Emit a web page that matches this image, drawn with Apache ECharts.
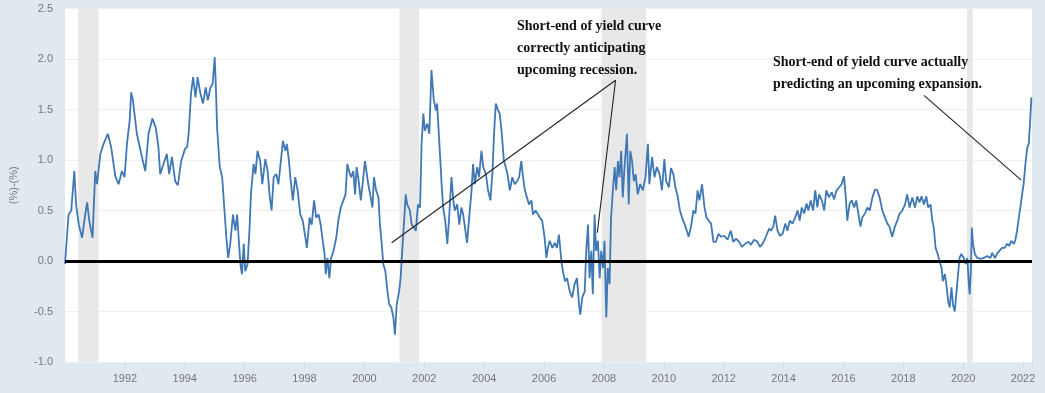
<!DOCTYPE html>
<html>
<head>
<meta charset="utf-8">
<script src="https://cdn.jsdelivr.net/npm/echarts@6/dist/echarts.min.js"></script>
<style>
html,body{margin:0;padding:0;background:#e1e9f0;}
#chart{width:1045px;height:393px;}
</style>
</head>
<body>
<div id="chart"></div>
<script>
// Observation dates (decimal years) and spread values (%)
const years = [
1990.00,1990.07,1990.12,1990.21,1990.31,1990.37,1990.46,1990.57,1990.66,1990.74,1990.81,1990.92,
1991.01,1991.07,1991.18,1991.29,1991.43,1991.54,1991.68,1991.79,1991.90,1991.99,
1992.07,1992.16,1992.21,1992.27,1992.32,1992.40,1992.57,1992.68,1992.79,1992.92,
1993.03,1993.12,1993.18,1993.29,1993.40,1993.48,1993.57,1993.68,1993.77,1993.88,
1994.01,1994.08,1994.13,1994.21,1994.28,1994.36,1994.43,1994.52,1994.61,1994.70,1994.77,1994.86,1994.93,
1995.00,1995.04,1995.08,1995.17,1995.25,1995.32,1995.39,1995.45,1995.52,1995.61,1995.69,1995.75,1995.80,1995.86,1995.91,1995.97,
1996.02,1996.10,1996.17,1996.21,1996.30,1996.36,1996.43,1996.52,1996.59,1996.69,1996.77,1996.83,1996.90,1996.97,
1997.06,1997.13,1997.21,1997.28,1997.36,1997.41,1997.48,1997.54,1997.61,1997.69,1997.77,1997.86,1997.94,
1998.02,1998.08,1998.17,1998.24,1998.32,1998.39,1998.47,1998.54,1998.61,1998.67,1998.71,1998.77,1998.83,1998.89,1998.97,
1999.06,1999.13,1999.21,1999.30,1999.37,1999.43,1999.49,1999.56,1999.63,1999.69,1999.74,1999.81,1999.88,1999.94,
2000.02,2000.08,2000.13,2000.21,2000.27,2000.32,2000.39,2000.47,2000.52,2000.58,2000.63,2000.70,2000.77,2000.83,2000.90,2000.97,
2001.02,2001.08,2001.16,2001.21,2001.27,2001.32,2001.38,2001.43,2001.52,2001.58,2001.66,2001.72,2001.79,2001.86,2001.91,2001.97,
2002.02,2002.10,2002.17,2002.24,2002.32,2002.39,2002.43,2002.50,2002.58,2002.63,2002.70,2002.77,2002.83,2002.91,2002.97,
2003.02,2003.10,2003.17,2003.24,2003.30,2003.36,2003.43,2003.50,2003.58,2003.63,2003.69,2003.77,2003.83,2003.91,2003.97,
2004.06,2004.13,2004.21,2004.28,2004.33,2004.39,2004.47,2004.52,2004.59,2004.66,2004.72,2004.78,2004.86,2004.94,
2005.02,2005.10,2005.17,2005.24,2005.30,2005.36,2005.43,2005.50,2005.58,2005.63,2005.72,2005.80,2005.86,2005.94,
2006.02,2006.08,2006.13,2006.19,2006.28,2006.36,2006.43,2006.50,2006.58,2006.63,2006.70,2006.77,2006.86,2006.94,
2007.02,2007.10,2007.17,2007.21,2007.28,2007.36,2007.41,2007.47,2007.52,2007.58,2007.63,2007.69,2007.74,2007.80,2007.86,2007.91,2007.97,
2008.02,2008.08,2008.13,2008.19,2008.24,2008.30,2008.36,2008.41,2008.47,2008.52,2008.58,2008.63,2008.69,2008.77,2008.83,2008.88,2008.94,
2009.00,2009.06,2009.13,2009.21,2009.30,2009.39,2009.47,2009.52,2009.61,2009.69,2009.77,2009.86,2009.94,
2010.02,2010.08,2010.17,2010.24,2010.32,2010.39,2010.47,2010.54,2010.61,2010.69,2010.77,2010.83,2010.91,2010.99,
2011.06,2011.13,2011.19,2011.28,2011.36,2011.43,2011.50,2011.58,2011.66,2011.74,2011.83,2011.91,
2012.02,2012.13,2012.24,2012.32,2012.41,2012.52,2012.61,2012.72,2012.83,2012.91,
2013.02,2013.13,2013.21,2013.30,2013.41,2013.52,2013.58,2013.66,2013.72,2013.80,2013.88,2013.97,
2014.06,2014.13,2014.21,2014.30,2014.39,2014.47,2014.54,2014.61,2014.69,2014.77,2014.83,2014.91,2014.99,
2015.06,2015.13,2015.19,2015.28,2015.36,2015.43,2015.52,2015.61,2015.69,2015.77,2015.86,2015.94,
2016.02,2016.08,2016.13,2016.21,2016.28,2016.36,2016.43,2016.50,2016.57,2016.63,2016.72,2016.80,2016.88,2016.97,
2017.06,2017.13,2017.21,2017.30,2017.39,2017.47,2017.54,2017.63,2017.72,2017.80,2017.88,2017.97,
2018.06,2018.13,2018.21,2018.30,2018.39,2018.47,2018.54,2018.61,2018.69,2018.77,2018.83,2018.91,2018.97,
2019.02,2019.08,2019.15,2019.21,2019.28,2019.32,2019.39,2019.45,2019.50,2019.55,2019.61,2019.66,2019.72,2019.78,2019.83,2019.88,2019.94,
2020.02,2020.08,2020.14,2020.19,2020.22,2020.26,2020.29,2020.33,2020.39,2020.47,2020.58,2020.69,2020.80,2020.91,2020.97,
2021.06,2021.13,2021.21,2021.30,2021.39,2021.47,2021.54,2021.61,2021.69,2021.74,2021.80,2021.86,2021.91,2021.97,
2022.02,2022.08,2022.14,2022.19,2022.24,2022.28
];
const spread = [
-0.03,0.26,0.46,0.50,0.89,0.56,0.36,0.23,0.43,0.58,0.40,0.23,
0.89,0.76,1.06,1.16,1.26,1.13,0.84,0.76,0.89,0.83,
1.16,1.39,1.67,1.59,1.46,1.26,1.03,0.89,1.26,1.41,
1.32,1.13,0.86,0.96,1.06,0.86,1.03,0.79,0.75,0.99,
1.11,1.13,1.26,1.66,1.82,1.62,1.82,1.66,1.56,1.72,1.59,1.72,1.75,
2.02,1.72,1.32,0.93,0.83,0.53,0.23,0.03,0.17,0.46,0.30,0.46,0.23,-0.03,-0.13,0.17,
-0.10,-0.03,0.36,0.66,0.96,0.86,1.09,0.99,0.76,1.01,0.89,0.66,0.50,0.83,
0.86,0.76,0.99,1.19,1.09,1.16,0.99,0.79,0.60,0.83,0.70,0.46,0.40,
0.25,0.13,0.43,0.36,0.60,0.43,0.46,0.36,0.20,0.07,-0.13,0.03,-0.17,0.03,0.10,
0.23,0.40,0.53,0.60,0.66,0.96,0.89,0.83,0.89,0.66,0.93,0.79,0.60,0.76,
0.99,0.99,0.76,0.63,0.53,0.83,0.70,0.63,0.36,0.17,-0.03,-0.10,-0.30,-0.43,-0.46,-0.56,
-0.73,-0.43,-0.30,-0.17,0.13,0.36,0.66,0.56,0.50,0.36,0.33,0.30,0.56,0.53,1.16,1.46,
1.29,1.36,1.26,1.89,1.59,1.49,1.56,1.19,0.76,0.53,0.40,0.17,0.43,0.83,0.60,
0.50,0.56,0.36,0.53,0.46,0.33,0.18,0.43,0.70,0.96,0.76,0.93,0.83,1.09,0.93,
0.86,0.70,0.60,0.89,1.26,1.56,1.49,1.46,1.26,0.99,0.93,0.86,0.70,0.83,
0.76,0.79,0.83,0.99,0.83,0.70,0.63,0.56,0.60,0.46,0.50,0.46,0.43,0.40,
0.23,0.03,0.13,0.20,0.13,0.18,0.13,0.26,0.00,-0.10,-0.20,-0.17,-0.30,-0.36,
-0.23,-0.17,-0.43,-0.53,-0.36,-0.30,0.10,0.36,-0.17,0.10,-0.33,0.46,0.10,0.20,-0.17,0.10,-0.07,
0.20,-0.56,-0.07,-0.23,0.43,0.70,0.93,0.70,0.99,0.83,1.09,0.63,0.93,1.26,0.56,1.09,0.99,
0.79,0.86,0.66,0.76,0.70,0.83,1.16,0.76,1.03,0.83,0.93,0.86,0.70,
1.01,0.79,0.73,0.92,0.86,0.73,0.63,0.50,0.43,0.37,0.30,0.24,0.34,0.50,
0.47,0.70,0.60,0.76,0.53,0.43,0.40,0.37,0.19,0.19,0.27,0.24,
0.25,0.21,0.30,0.19,0.22,0.19,0.14,0.17,0.19,0.16,
0.21,0.19,0.14,0.17,0.24,0.32,0.30,0.34,0.45,0.30,0.25,0.27,
0.37,0.30,0.40,0.37,0.43,0.50,0.40,0.53,0.47,0.57,0.50,0.60,0.50,
0.70,0.53,0.66,0.60,0.50,0.70,0.63,0.68,0.61,0.70,0.73,0.76,
0.84,0.63,0.40,0.57,0.60,0.53,0.60,0.47,0.34,0.43,0.47,0.53,0.50,0.63,
0.71,0.70,0.63,0.50,0.43,0.37,0.34,0.24,0.34,0.40,0.47,0.50,
0.56,0.66,0.53,0.63,0.53,0.64,0.58,0.64,0.56,0.64,0.53,0.56,0.40,
0.33,0.13,0.07,0.00,-0.07,-0.20,-0.13,-0.26,-0.40,-0.46,-0.26,-0.43,-0.50,-0.30,-0.13,0.03,0.07,
0.03,-0.03,0.03,-0.23,-0.33,-0.07,0.33,0.17,0.07,0.03,0.02,0.03,0.05,0.03,0.08,
0.03,0.07,0.10,0.13,0.13,0.17,0.15,0.20,0.17,0.20,0.30,0.43,0.53,0.66,
0.76,0.96,1.12,1.16,1.39,1.62
];
// Recession periods (decimal years)
const recessionStart = [1990.44, 2001.17, 2007.92, 2020.13];
const recessionEnd   = [1991.12, 2001.83, 2009.42, 2020.32];
// Annotation pointer lines: [year, value] -> [year, value]
const pointerFrom = [[2000.91, 0.18], [2007.78, 0.28], [2018.69, 1.64]];
const pointerTo   = [[2008.39, 1.79], [2008.39, 1.79], [2021.94, 0.80]];
const noteTexts = [
  'Short-end of yield curve\ncorrectly anticipating\nupcoming recession.',
  'Short-end of yield curve actually\npredicting an upcoming expansion.'
];

const chart = echarts.init(document.getElementById('chart'), null, {renderer: 'canvas'});
const seriesData = years.map((y, i) => [y, spread[i]]);
const areas = recessionStart.map((s, i) => [{xAxis: s}, {xAxis: recessionEnd[i]}]);
const pointerLines = pointerFrom.map((p, i) => [
  {coord: p, lineStyle: {color: '#222', width: 1.1, type: 'solid'}},
  {coord: pointerTo[i]}
]);

chart.setOption({
  backgroundColor: '#e1e9f0',
  animation: false,
  grid: {left: 62, right: 13, top: 8.5, bottom: 31, show: true, backgroundColor: '#ffffff', borderWidth: 0},
  xAxis: {
    type: 'value', min: 1990, max: 2022.3, interval: 2,
    axisLine: {show: false, onZero: false},
    axisTick: {show: true, length: 6, lineStyle: {color: '#d3d9e0'}},
    splitLine: {show: false},
    axisLabel: {
      color: '#777', fontSize: 11, fontFamily: 'Liberation Sans', margin: 11,
      showMinLabel: false,
      formatter: v => (Number.isInteger(v) ? String(v) : '')
    }
  },
  yAxis: {
    type: 'value', min: -1, max: 2.5, interval: 0.5,
    name: '(%)-(%)', nameLocation: 'middle', nameGap: 46,
    nameTextStyle: {color: '#777', fontSize: 11, fontFamily: 'Liberation Sans'},
    axisLine: {show: false}, axisTick: {show: false},
    splitLine: {lineStyle: {color: '#edf0f4', width: 1}},
    axisLabel: {color: '#777', fontSize: 11, fontFamily: 'Liberation Sans', margin: 12,
      formatter: v => v.toFixed(1)}
  },
  series: [{
    type: 'line',
    data: seriesData,
    showSymbol: false,
    lineStyle: {color: '#3f78b4', width: 1.8},
    markArea: {silent: true, itemStyle: {color: '#e8e8e8'}, data: areas},
    markLine: {
      silent: true, symbol: ['none', 'none'], label: {show: false},
      data: [
        {yAxis: 0, lineStyle: {color: '#000', width: 3, type: 'solid'}},
        ...pointerLines
      ]
    }
  }],
  graphic: [
    {type: 'text', left: 517, top: 15, z: 100,
      style: {text: noteTexts[0], font: 'bold 14px "Liberation Serif"', fill: '#111', lineHeight: 22}},
    {type: 'text', left: 773, top: 51, z: 100,
      style: {text: noteTexts[1], font: 'bold 14px "Liberation Serif"', fill: '#111', lineHeight: 22.5}}
  ]
});
</script>
</body>
</html>
